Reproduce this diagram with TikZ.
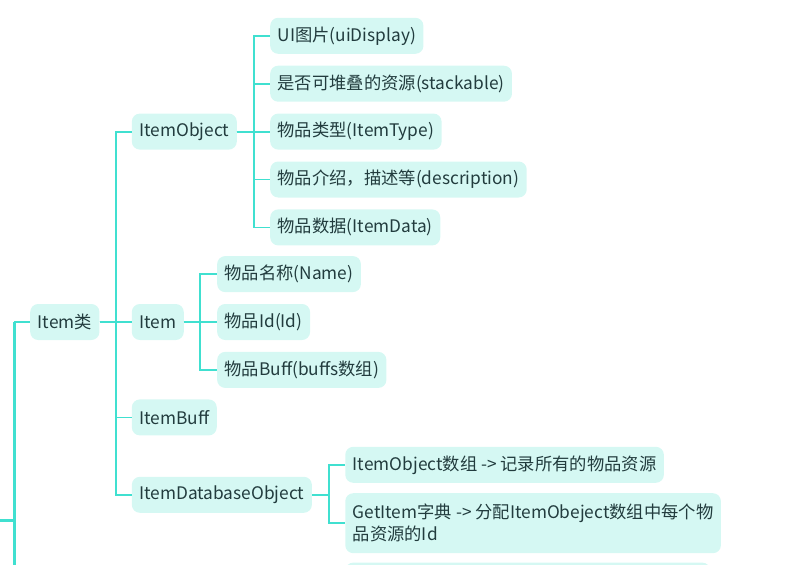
\documentclass[tikz,border=0pt]{standalone}
\usepackage{fontspec}
\setmainfont{Noto Sans CJK SC}
\usetikzlibrary{positioning}
\definecolor{turq}{RGB}{64,224,208}
\definecolor{boxfill}{RGB}{213,248,243}
\definecolor{ink}{RGB}{34,60,62}

\begin{document}
\begin{tikzpicture}[x=1pt,y=1pt]

		\tikzset{link/.style={draw,turq,line width=1.8pt}}
		\tikzset{trunk/.style={link,line width=3pt}}
		\tikzset{box/.style={fill=boxfill,text=ink,rounded corners=8pt,inner xsep=7.5pt,inner ysep=4pt,minimum height=36pt,font=\fontsize{17.3pt}{22pt}\selectfont}}

		\useasboundingbox (0,0) rectangle (807,-565);
		\clip (0,0) rectangle (807,-565);

		% root branch
		\node[box, anchor=west] (itemcls) at (30,-322) {Item类};
		\coordinate (top) at (14,-322);
		\coordinate (bottom) at (14,-600);
		\coordinate (stub) at (-5,-520);
		\coordinate (stubend) at (14,-520);

		% classes
		\node[box, right=32pt of itemcls] (item) {Item};
		\node[box, above=154pt of item.north west, anchor=south west] (itemobj) {ItemObject};
		\node[box, below=59pt of item.south west, anchor=north west] (itembuff) {ItemBuff};
		\node[box, below=41pt of itembuff.south west, anchor=north west] (itemdb) {ItemDatabaseObject};

		% ItemObject fields
		\node[box, right=33pt of itemobj] (itemtype) {物品类型(ItemType)};
		\node[box, above=11.5pt of itemtype.north west, anchor=south west] (stack) {是否可堆叠的资源(stackable)};
		\node[box, above=11.5pt of stack.north west, anchor=south west] (ui) {UI图片(uiDisplay)};
		\node[box, below=11.5pt of itemtype.south west, anchor=north west] (desc) {物品介绍，描述等(description)};
		\node[box, below=11.5pt of desc.south west, anchor=north west] (itemdata) {物品数据(ItemData)};

		% Item fields
		\node[box, right=33pt of item] (id) {物品Id(Id)};
		\node[box, above=11.5pt of id.north west, anchor=south west] (name) {物品名称(Name)};
		\node[box, below=11.5pt of id.south west, anchor=north west] (buffs) {物品Buff(buffs数组)};

		% ItemDatabaseObject fields
		\node[box, right=33pt of itemdb, yshift=30pt] (objarr) {ItemObject数组 -> 记录所有的物品资源};
		\node[box, below=10pt of objarr.south west, anchor=north west, minimum height=60pt, align=left] (getitem) {GetItem字典 -> 分配ItemObeject数组中每个物\\品资源的Id};
		\node[box, below=9pt of getitem.south west, anchor=north west, minimum width=365pt] (more) {};

		\path[trunk] (top) -- (bottom);
		\path[trunk] (stub) -- (stubend);
		\path[link] (top) -- (itemcls.west);

		\path[link] (itemcls.east) -- ++(16,0) |- (itemobj.west);
		\path[link] (itemcls.east) -- (item.west);
		\path[link] (itemcls.east) -- ++(16,0) |- (itembuff.west);
		\path[link] (itemcls.east) -- ++(16,0) |- (itemdb.west);

		\path[link] (itemobj.east) -- ++(17,0) |- (ui.west);
		\path[link] (itemobj.east) -- ++(17,0) |- (stack.west);
		\path[link] (itemobj.east) -- (itemtype.west);
		\path[link] (itemobj.east) -- ++(17,0) |- (desc.west);
		\path[link] (itemobj.east) -- ++(17,0) |- (itemdata.west);

		\path[link] (item.east) -- ++(16,0) |- (name.west);
		\path[link] (item.east) -- (id.west);
		\path[link] (item.east) -- ++(16,0) |- (buffs.west);

		\path[link] (itemdb.east) -- ++(17,0) |- (objarr.west);
		\path[link] (itemdb.east) -- ++(17,0) |- (getitem.west);

	\end{tikzpicture}
\end{document}
